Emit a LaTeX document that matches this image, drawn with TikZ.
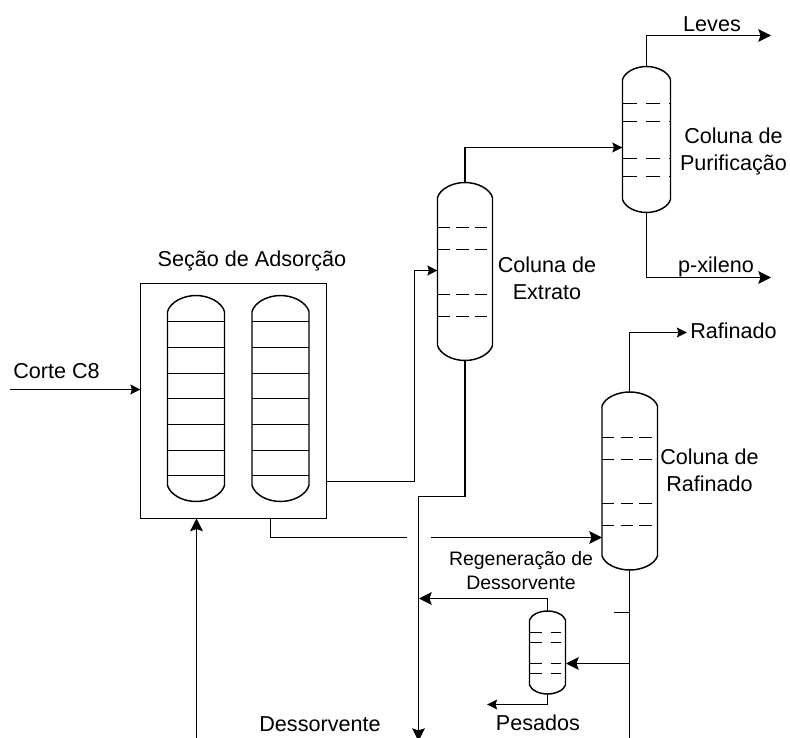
\documentclass[tikz,border=0pt]{standalone}
\usepackage{fontspec}
\setmainfont{Liberation Sans}
\usetikzlibrary{arrows.meta}
\tikzset{
  x=0.75pt,y=-0.75pt,
  line/.style={draw=black,line width=1.1pt},
  flow/.style={line,-{Stealth[length=9.5pt,width=9.5pt,inset=1.6pt]}},
  flowsmall/.style={line,-{Stealth[length=7.6pt,width=7.4pt,inset=1.2pt]}},
  vesselbox/.style={inner sep=0pt,outer sep=0pt,rectangle},
  tray/.style={line},
  dashtray/.style={line,dash pattern=on 9.3pt off 4.7pt},
  label/.style={inner sep=0pt,align=center,font=\fontsize{16.2pt}{20.2pt}\selectfont},
  labelsmall/.style={inner sep=0pt,align=center,font=\fontsize{14.6pt}{18pt}\selectfont},
}
% name, x1, x2, y-top, y-bottom, cap height
\newcommand{\vessel}[6]{%
  \pgfmathsetmacro\vcx{(#2+#3)/2}%
  \pgfmathsetmacro\vcy{(#4+#5)/2}%
  \pgfmathsetmacro\vw{(#3-#2)*0.75}%
  \pgfmathsetmacro\vh{(#5-#4)*0.75}%
  \pgfmathsetmacro\vst{#4+#6}%
  \pgfmathsetmacro\vsb{#5-#6}%
  \pgfmathsetmacro\vct{#4+0.42*#6}%
  \pgfmathsetmacro\vcb{#5-0.42*#6}%
  \pgfmathsetmacro\vlw{#2+0.05*(#3-#2)}%
  \pgfmathsetmacro\vrw{#3-0.05*(#3-#2)}%
  \pgfmathsetmacro\vla{#2+0.27*(#3-#2)}%
  \pgfmathsetmacro\vra{#3-0.27*(#3-#2)}%
  \node[vesselbox,minimum width=\vw pt,minimum height=\vh pt] (#1) at (\vcx,\vcy) {};
  \draw[line] (#2,\vst) .. controls (\vlw,\vct) and (\vla,#4) .. (\vcx,#4)
    .. controls (\vra,#4) and (\vrw,\vct) .. (#3,\vst) -- (#3,\vsb)
    .. controls (\vrw,\vcb) and (\vra,#5) .. (\vcx,#5)
    .. controls (\vla,#5) and (\vlw,\vcb) .. (#2,\vsb) -- cycle;
}
\begin{document}
\begin{tikzpicture}
\useasboundingbox (0,0) rectangle (790,738);

% Section box and adsorbers
\node[vesselbox,draw=black,line width=1.1pt,minimum width=139.5pt,minimum height=176.25pt] (secao) at (233.5,401) {};
\vessel{adsA}{167.5}{224.5}{295.5}{501.5}{16}
\vessel{adsB}{252}{309}{295.5}{501.5}{16}
\foreach \yy in {321.5,347.5,373.5,398.5,424.5,450.5,475.5}{
  \draw[tray] (167.5,\yy) -- (224.5,\yy);
  \draw[tray] (252,\yy) -- (309,\yy);
}

% Columns
\vessel{extrato}{437.5}{492.5}{182.5}{360.5}{15}
\foreach \yy in {227.5,249.5,294.5,316.5}{\draw[dashtray] (437.5,\yy) -- (487,\yy);}
\vessel{purif}{622.5}{670.5}{66.5}{212.5}{13}
\foreach \yy in {103.5,121.5,158.5,176.5}{\draw[dashtray,dash pattern=on 10.6pt off 7pt] (622.5,\yy) -- (670.5,\yy);}
\vessel{rafin}{602}{657.5}{392}{570}{14}
\foreach \yy in {437.5,459.5,503.5,525.5}{\draw[dashtray] (602,\yy) -- (651.7,\yy);}
\vessel{regen}{529.5}{565.5}{611}{694}{9}
\foreach \yy in {632.5,642.5,663.5,673.5}{\draw[dashtray,dash pattern=on 9pt off 7.2pt] (529.5,\yy) -- (561,\yy);}

% Texts
\node[label] (tSecao) at (252,260.5) {Seção de Adsorção};
\node[label,anchor=west] (tCorte) at (13,371) {Corte C8};
\node[label] (tExtrato) at (547,278.5) {Coluna de\\Extrato};
\node[label] (tPurif) at (733.5,151) {Coluna de\\Purificação};
\node[label] (tLeves) at (712,24) {Leves};
\node[label] (tPx) at (716,267) {p-xileno};
\node[label,anchor=west] (tRaf) at (690,331) {Rafinado};
\node[label] (tColRaf) at (709.5,470.5) {Coluna de\\Rafinado};
\node[labelsmall] (tRegen) at (521,571) {Regeneração de\\Dessorvente};
\node[label] (tPes) at (538,723) {Pesados};
\node[label] (tDes) at (320,724) {Dessorvente};

% Free ends and elbows
\coordinate (corteIn) at (10,389.5);
\coordinate (desIn) at (196.5,738);
\coordinate (s1) at (326.5,481.5);
\coordinate (s2) at (414.5,481.5);
\coordinate (s3) at (414.5,270.5);
\coordinate (s4) at (437.5,270.5);
\coordinate (b0) at (270.5,518.5);
\coordinate (b1) at (270.5,537.5);
\coordinate (b2) at (407,537.5);
\coordinate (b3) at (431,537.5);
\coordinate (b4) at (602,537.5);
\coordinate (e1) at (465,496.5);
\coordinate (e2) at (418.5,496.5);
\coordinate (e3) at (418.5,741);
\coordinate (t1) at (465,147.5);
\coordinate (t2) at (622.5,147.5);
\coordinate (l1) at (646.5,35.5);
\coordinate (l2) at (771,35.5);
\coordinate (p1) at (646.5,277.5);
\coordinate (p2) at (771,277.5);
\coordinate (r1) at (629.75,332.5);
\coordinate (r2) at (687,332.5);
\coordinate (rb) at (629.75,738);
\coordinate (tick1) at (613.5,612.5);
\coordinate (tick2) at (629.75,612.5);
\coordinate (f1) at (629.75,663.5);
\coordinate (f2) at (566,663.5);
\coordinate (g1) at (547.5,598.5);
\coordinate (g2) at (419,598.5);
\coordinate (h1) at (547.5,704.5);
\coordinate (h2) at (487,704.5);

% Connectors
\draw[flowsmall] (corteIn) -- (corteIn -| secao.west);
\draw[flow] (desIn) -- (desIn |- secao.south);
\draw[flowsmall] (s1) -- (s2) -- (s3) -- (s4);
\draw[line] (b0) -- (b1) -- (b2);
\draw[flow] (b3) -- (b4);
\draw[flow] (extrato.south) -- (e1) -- (e2) -- (e3);
\draw[flowsmall] (extrato.north) -- (t1) -- (t2);
\draw[flow] (purif.north) -- (l1) -- (l2);
\draw[flow] (purif.south) -- (p1) -- (p2);
\draw[flowsmall] (rafin.north) -- (r1) -- (r2);
\draw[line] (rafin.south) -- (rb);
\draw[line] (tick1) -- (tick2);
\draw[flow] (f1) -- (f2);
\draw[flow] (regen.north) -- (g1) -- (g2);
\draw[flowsmall] (regen.south) -- (h1) -- (h2);
\end{tikzpicture}
\end{document}
